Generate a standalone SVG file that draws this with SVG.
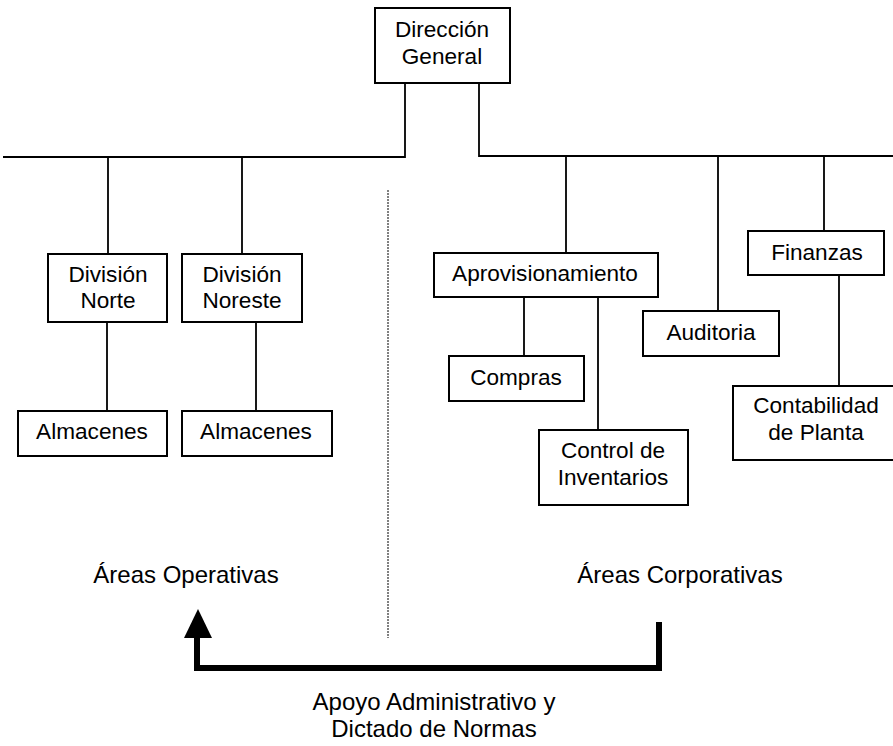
<svg xmlns="http://www.w3.org/2000/svg" width="893" height="746" viewBox="0 0 893 746">
<style>
.box{fill:#fff;stroke:#000;stroke-width:2}
.ln{fill:none;stroke:#000;stroke-width:1.8}
text{font-family:"Liberation Sans",Arial,sans-serif;font-size:22.6px;fill:#000;text-anchor:middle}
.lbl{font-size:24px}
</style>
<rect width="893" height="746" fill="#fff"/>
<g id="connectors">
<path class="ln" d="M405,83 V157 H3 M108,157 V254 M242,157 V254"/>
<path class="ln" d="M479,83 V156 H893 M566,156 V253 M718,156 V311 M824,156 V231"/>
<path class="ln" d="M107,322 V411 M256,322 V411"/>
<path class="ln" d="M524,297 V356 M598,297 V430"/>
<path class="ln" d="M839,275 V386"/>
<line x1="388" y1="190" x2="388" y2="638" stroke="#000" stroke-width="1" stroke-dasharray="2,1"/>
<path d="M659,622 V668 H197 V635" fill="none" stroke="#000" stroke-width="6"/>
<polygon points="184,638 198,609 212,638" fill="#000"/>
</g>
<g id="direccion"><rect class="box" x="375" y="8" width="135" height="75"/><text x="442" y="37">Dirección</text><text x="442" y="64">General</text></g>
<g id="div-norte"><rect class="box" x="48" y="254" width="119" height="68"/><text x="108" y="282">División</text><text x="108" y="308">Norte</text></g>
<g id="div-noreste"><rect class="box" x="182" y="254" width="120" height="68"/><text x="242" y="282">División</text><text x="242" y="308">Noreste</text></g>
<g id="almacenes1"><rect class="box" x="18" y="411" width="149" height="45"/><text x="92" y="439">Almacenes</text></g>
<g id="almacenes2"><rect class="box" x="182" y="411" width="150" height="45"/><text x="256" y="439">Almacenes</text></g>
<g id="aprovisionamiento"><rect class="box" x="434" y="253" width="224" height="44"/><text x="545" y="281">Aprovisionamiento</text></g>
<g id="compras"><rect class="box" x="449" y="356" width="135" height="45"/><text x="516" y="385">Compras</text></g>
<g id="control"><rect class="box" x="539" y="430" width="149" height="75"/><text x="613" y="458">Control de</text><text x="613" y="485">Inventarios</text></g>
<g id="auditoria"><rect class="box" x="643" y="311" width="136" height="45"/><text x="711" y="340">Auditoria</text></g>
<g id="finanzas"><rect class="box" x="748" y="231" width="136" height="44"/><text x="817" y="260">Finanzas</text></g>
<g id="contabilidad"><rect class="box" x="733" y="386" width="170" height="74"/><text x="816" y="413">Contabilidad</text><text x="816" y="440">de Planta</text></g>
<g id="labels">
<text class="lbl" x="186" y="583">Áreas Operativas</text>
<text class="lbl" x="680" y="583">Áreas Corporativas</text>
<text class="lbl" x="434" y="710">Apoyo Administrativo y</text>
<text class="lbl" x="434" y="737">Dictado de Normas</text>
</g>
</svg>
